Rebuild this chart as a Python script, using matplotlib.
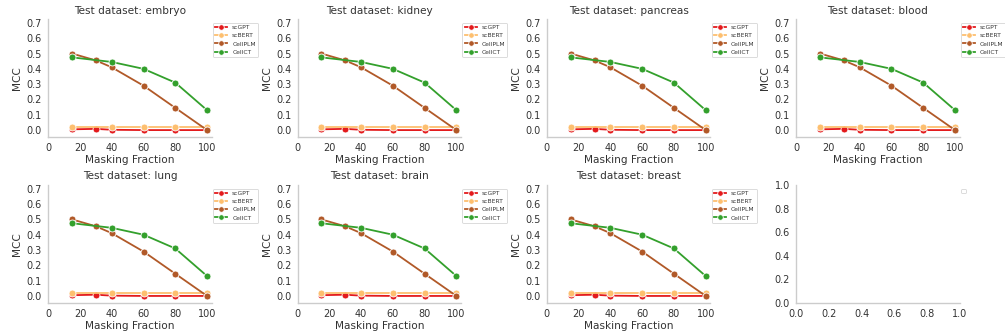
import matplotlib
matplotlib.use('Agg')
import matplotlib.pyplot as plt
import numpy as np

datasets = ['embryo', 'kidney', 'pancreas', 'blood', 'lung', 'brain', 'breast']

models = ['scGPT', 'scBERT', 'CellPLM', 'CellCT']
colors = ['#e31a1c', '#fdbf6f', '#b15928', '#33a02c']

x_scgpt = [15, 30, 40, 60, 80, 100]
mcc_scgpt = [0.005, 0.008, 0.002, 0.0, 0.0, 0.0]
x_scbert = [15, 40, 60, 80, 100]
mcc_scbert = [0.022, 0.022, 0.022, 0.022, 0.022]
x_cellplm = [15, 30, 40, 60, 80, 100]
mcc_cellplm = [0.50, 0.455, 0.41, 0.29, 0.145, 0.0]
x_cellct = [15, 40, 60, 80, 100]
mcc_cellct = [0.475, 0.445, 0.40, 0.31, 0.13]

xs = [x_scgpt, x_scbert, x_cellplm, x_cellct]
ys = [mcc_scgpt, mcc_scbert, mcc_cellplm, mcc_cellct]

plt.rcParams['font.family'] = 'DejaVu Sans'
plt.rcParams['text.color'] = '#333333'
plt.rcParams['axes.labelcolor'] = '#333333'
plt.rcParams['xtick.color'] = '#333333'
plt.rcParams['ytick.color'] = '#333333'

fig, axes = plt.subplots(2, 4, figsize=(10.05, 3.35), dpi=100)
fig.subplots_adjust(left=0.048, right=0.955, top=0.943, bottom=0.096,
                    wspace=0.524, hspace=0.407)
axes = axes.flatten()


def style_ax(ax):
    for s in ['top', 'right']:
        ax.spines[s].set_visible(False)
    for s in ['left', 'bottom']:
        ax.spines[s].set_color('#cccccc')
        ax.spines[s].set_linewidth(1.0)
    ax.tick_params(length=0, labelsize=7, pad=4.5)


for i, name in enumerate(datasets):
    ax = axes[i]
    for m, c, x, y in zip(models, colors, xs, ys):
        ax.plot(x, y, color=c, lw=1.3, marker='o', ms=5,
                markeredgecolor='white', markeredgewidth=0.6, label=m)
    ax.set_title('Test dataset: ' + name, fontsize=7.6, pad=4)
    ax.set_xlabel('Masking Fraction', fontsize=7.6, labelpad=1.5)
    ax.set_ylabel('MCC', fontsize=7.6, labelpad=3)
    ax.set_xlim(0, 103)
    ax.set_ylim(-0.045, 0.725)
    ax.set_xticks([0, 20, 40, 60, 80, 100])
    ax.set_yticks(np.arange(0, 0.71, 0.1))
    style_ax(ax)
    leg = ax.legend(loc='upper left', bbox_to_anchor=(1.0, 0.98), fontsize=4.3,
                    frameon=True, borderaxespad=0.2, handlelength=2.0,
                    markerscale=0.8)
    leg.get_frame().set_edgecolor('#cccccc')
    leg.get_frame().set_linewidth(0.6)

ax = axes[7]
ax.set_xlim(0, 1)
ax.set_ylim(0, 1)
ax.set_xticks(np.arange(0, 1.01, 0.2))
ax.set_yticks(np.arange(0, 1.01, 0.2))
style_ax(ax)
leg = ax.legend(handles=[], loc='upper left', bbox_to_anchor=(1.0, 0.98),
                fontsize=4.3, borderaxespad=0.2)
leg.get_frame().set_edgecolor('#cccccc')
leg.get_frame().set_linewidth(0.6)

fig.savefig('out.png', dpi=100)
